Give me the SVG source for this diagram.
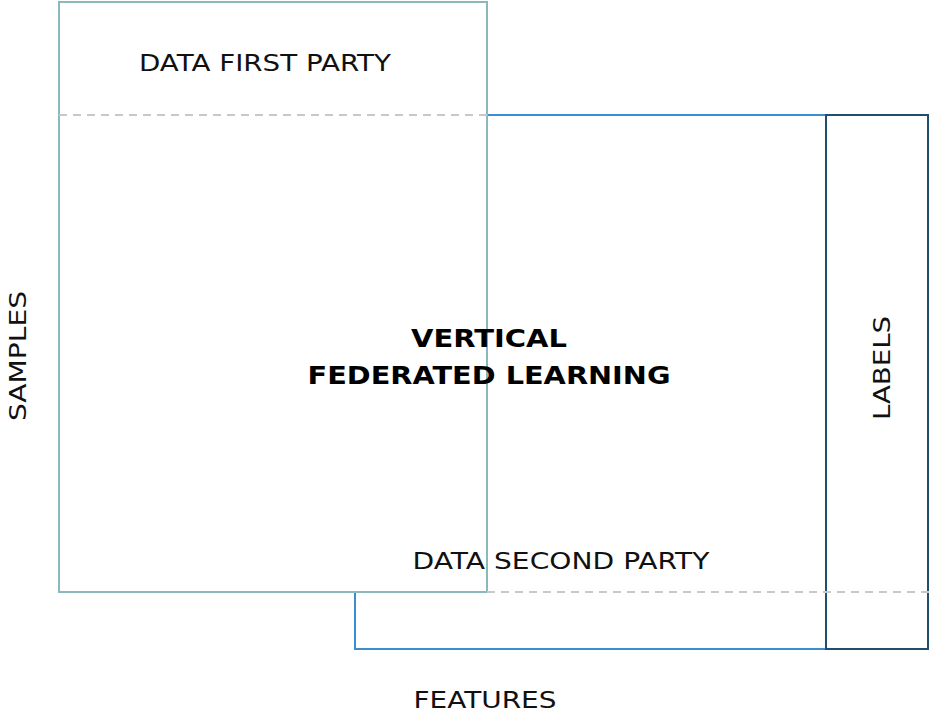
<svg xmlns="http://www.w3.org/2000/svg" width="933" height="714" viewBox="0 0 933 714">
<style>
text{font-family:"DejaVu Sans","Liberation Sans",sans-serif;font-size:23px;fill:#111;text-anchor:middle}
.b{font-weight:bold;font-size:25px;fill:#000}
.dash{stroke:#c8c8c8;stroke-width:2;stroke-dasharray:8 6;fill:none}
</style>
<rect width="933" height="714" fill="#fff"/>
<g id="second-party"><rect x="355" y="115" width="471" height="534" fill="none" stroke="#3a8dd0" stroke-width="2"/></g>
<g id="first-party"><rect x="59" y="2" width="428" height="590" fill="#fff" stroke="#8ab9bb" stroke-width="2"/>
<text x="265" y="71" textLength="252" lengthAdjust="spacingAndGlyphs">DATA FIRST PARTY</text></g>
<g id="labels"><rect x="826" y="115" width="102" height="534" fill="#fff" stroke="#1f4e6e" stroke-width="2"/>
<text transform="translate(890 368) rotate(-90)" textLength="104" lengthAdjust="spacingAndGlyphs">LABELS</text></g>
<g id="connectors">
<line class="dash" x1="59" y1="115" x2="487" y2="115"/>
<line class="dash" x1="487" y1="592" x2="933" y2="592"/>
</g>
<g id="second-party-label"><text x="561" y="569" textLength="297" lengthAdjust="spacingAndGlyphs">DATA SECOND PARTY</text></g>
<g id="title"><text class="b" x="489" y="347" textLength="156" lengthAdjust="spacingAndGlyphs">VERTICAL</text><text class="b" x="489" y="384" textLength="363" lengthAdjust="spacingAndGlyphs">FEDERATED LEARNING</text></g>
<g id="axes"><text transform="translate(26 356) rotate(-90)" textLength="130" lengthAdjust="spacingAndGlyphs">SAMPLES</text>
<text x="485" y="708" textLength="143" lengthAdjust="spacingAndGlyphs">FEATURES</text></g>
</svg>
